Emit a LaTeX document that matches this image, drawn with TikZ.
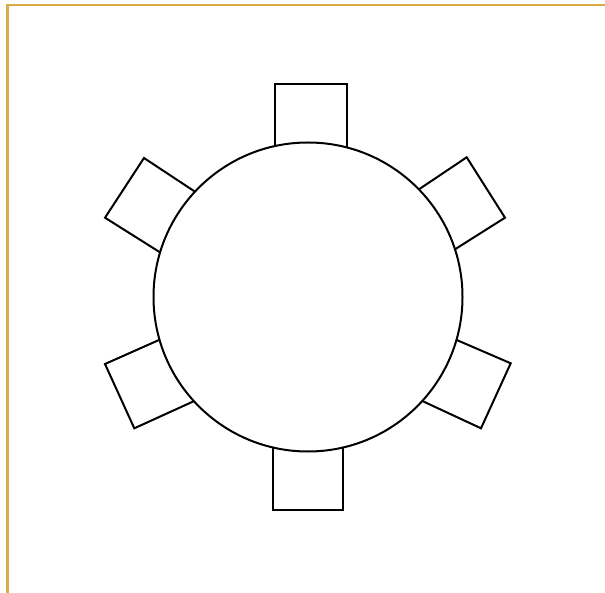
\documentclass[tikz,border=0pt]{standalone}
\usetikzlibrary{calc}
\definecolor{gold}{RGB}{218,172,72}
\begin{document}
\begin{tikzpicture}[x=1pt,y=-1pt,
  chair/.style={draw=black,line width=2pt,fill=white,line join=miter},
  tablestyle/.style={draw=black,line width=2pt,fill=white},
  frame/.style={draw=gold,line width=2.2pt}]
\useasboundingbox (0,0) rectangle (605,593);
\draw[frame] (7.5,593) -- (7.5,5) -- (605,5);
% chair corners: outer A, B; side points a (from A), b (from B)
\newcommand{\mychair}[8]{%
  \coordinate (A) at (#1,#2); \coordinate (B) at (#3,#4);
  \coordinate (a) at (#5,#6); \coordinate (b) at (#7,#8);
  \draw[chair] ($(A)!1.4!(a)$) -- (A) -- (B) -- ($(B)!1.4!(b)$);}
\mychair{275}{84.5}{346.5}{84.5}{275}{150}{346.5}{150}
\mychair{272.5}{510.3}{343.3}{510.3}{272.5}{445}{343.3}{445}
\mychair{144}{158}{105}{217.7}{195}{191.7}{159}{251.7}
\mychair{466.7}{157.3}{505}{217.7}{419}{189.3}{455}{249.3}
\mychair{105}{364}{134.3}{428.3}{159}{340}{192.7}{401.7}
\mychair{510.7}{363.3}{481}{428.3}{456.7}{340}{422.3}{401}
\node[tablestyle,circle,minimum size=309pt,inner sep=0pt] (table) at (308,297) {};
\end{tikzpicture}
\end{document}
